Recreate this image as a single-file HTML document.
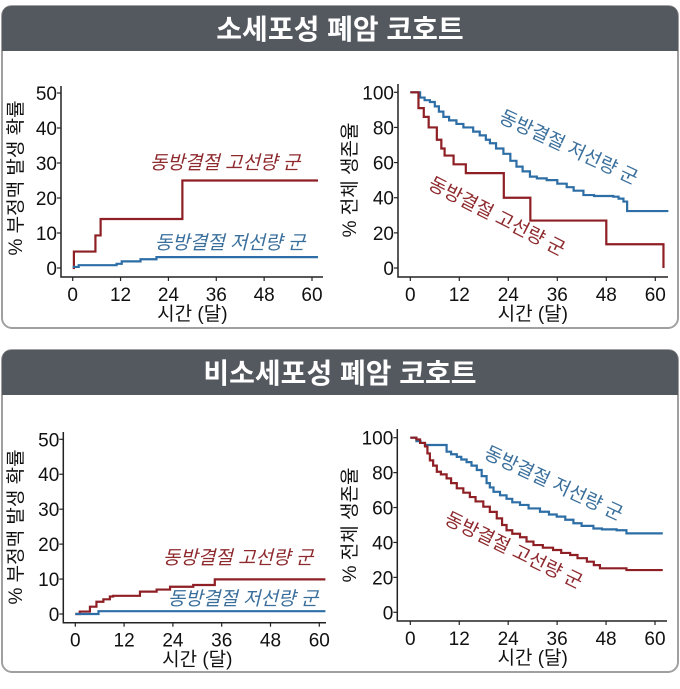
<!DOCTYPE html>
<html><head><meta charset="utf-8">
<style>
html,body{margin:0;padding:0;background:#fff;}
body{width:680px;height:684px;overflow:hidden;font-family:"Liberation Sans","Noto Sans CJK KR",sans-serif;}
svg text{font-family:"Liberation Sans","Noto Sans CJK KR",sans-serif;}
</style></head>
<body>
<svg id="root" width="680" height="684" viewBox="0 0 680 684" xmlns="http://www.w3.org/2000/svg">
  <g>
    <rect x="2" y="6" width="676" height="322" rx="10" fill="#fff" stroke="#a0a0a0" stroke-width="2"/>
    <path d="M2,51 V16 Q2,6 12,6 H668 Q678,6 678,16 V51 Z" fill="#54585f"/>
    <text x="340" y="39" text-anchor="middle" font-size="28" font-weight="bold" fill="#fff">소세포성 폐암 코호트</text>
  </g>
  <g>
    <rect x="2" y="350" width="676" height="322" rx="10" fill="#fff" stroke="#a0a0a0" stroke-width="2"/>
    <path d="M2,395 V360 Q2,350 12,350 H668 Q678,350 678,360 V395 Z" fill="#54585f"/>
    <text x="340" y="383" text-anchor="middle" font-size="28" font-weight="bold" fill="#fff">비소세포성 폐암 코호트</text>
  </g>
  <g id="charts"></g>
</svg>
<script>
// ---- data: chart A (small cell, incidence) ----
const xTicks = [0, 12, 24, 36, 48, 60];
const yTicksA = [0, 10, 20, 30, 40, 50];
const yTicksS = [0, 20, 40, 60, 80, 100];
const aHighT = [0, 0.3, 5.7, 7, 27.5];
const aHighV = [0, 4.7, 9.3, 14, 25];
const aLowT = [0, 1.5, 11, 12.3, 17, 21];
const aLowV = [0.3, 0.8, 1.2, 1.9, 2.5, 3.1];
// ---- chart B (small cell, overall survival) ----
const bLowT = [0, 2.4, 3.5, 4.8, 6, 7, 8.1, 9.5, 11.3, 13, 15.4, 17, 18.5, 19.5, 21, 22.8, 24.5, 26, 27.5, 29.3, 31, 33.4, 36, 38.3, 40, 42.4, 45, 49.7, 51, 52.2, 53.1];
const bLowV = [100, 97, 95.5, 94.5, 92, 89, 86, 84, 82, 80, 77.6, 75.5, 73, 71, 68, 65, 61, 57.7, 55, 52, 51, 50, 48, 46, 44, 41.5, 41, 40.6, 39.5, 37.8, 32.4];
const bHighT = [0, 2, 3.3, 4.5, 6.5, 7.6, 8.4, 10.6, 13.6, 22.9, 29.4, 48, 62];
const bHighV = [100, 91, 86, 80, 73, 68, 64, 59, 54, 40, 27, 13.5, 0];
// ---- chart C (non-small cell, incidence) ----
const cHighT = [0, 1.1, 3.6, 5.2, 6.9, 8.5, 9.3, 15.9, 20, 23.3, 29, 34.3];
const cHighV = [0, 0.7, 2.1, 3.5, 4.2, 5, 5.2, 6.4, 7, 7.8, 8.3, 9.9];
const cLowT = [0, 5.7];
const cLowV = [0, 0.8];
// ---- chart D (non-small cell, survival) ----
const dLowT = [0, 1.5, 2.5, 3.6, 6.9, 8.9, 10, 11.4, 12.5, 13.8, 15, 16.3, 17.5, 18.7, 19.5, 20.4, 22, 23.6, 25, 26.9, 29, 31.8, 34, 35.9, 38, 40, 42, 44.9, 47, 50.6, 53];
const dLowV = [100, 98, 97, 95.8, 95.8, 92, 90.5, 89, 87.5, 86, 84, 81.5, 78, 74, 71.5, 69, 67, 65, 63, 61.5, 59.5, 57.6, 56, 54.8, 53, 51, 49.5, 48, 47.5, 47, 45.2];
const dHighT = [0, 1.5, 2.4, 3.6, 4.2, 4.8, 5.6, 6.5, 7.5, 8.9, 10, 11.4, 13, 14.6, 16, 17.9, 19.5, 21.2, 22.5, 23.6, 25, 26.9, 28.5, 30.2, 32.5, 35, 37, 39.2, 41, 43.3, 45, 46.5, 53];
const dHighV = [100, 99, 97, 95, 91, 87, 84, 80.5, 79, 76.7, 74, 71, 68.5, 66, 63.5, 60.5, 57.5, 53.8, 50, 47, 45, 43, 40.5, 38.5, 37, 35.7, 34, 32.8, 31, 29, 27, 25.2, 24.2];

const NS = "http://www.w3.org/2000/svg";
const RED = "#8e1f24", BLUE = "#2c6ea5";
const host = document.getElementById("charts");
function mk(tag, attrs, parent) {
  const e = document.createElementNS(NS, tag);
  for (const k in attrs) e.setAttribute(k, attrs[k]);
  parent.appendChild(e);
  return e;
}
function stepPath(ts, vs, end, sx, sy) {
  let d = "M" + sx(ts[0]) + "," + sy(vs[0]);
  for (let i = 1; i < ts.length; i++) {
    d += " H" + sx(ts[i]) + " V" + sy(vs[i]);
  }
  d += " H" + sx(end);
  return d;
}
function chart(cfg) {
  const g = mk("g", {}, host);
  
  
  const sx = t => cfg.x0 + (t / 60) * (cfg.x60 - cfg.x0);
  const sy = v => cfg.yb - (v / cfg.ymax) * (cfg.yb - cfg.yt);
  const ax = mk("path", {d: "M" + cfg.axL + "," + cfg.axT + " V" + cfg.axB + " H" + cfg.axR, fill: "none", stroke: "#222", "stroke-width": 1.5}, g);
  
  
  cfg.yt_.forEach(v => {
    const tk = mk("line", {x1: cfg.axL - 4, x2: cfg.axL, y1: sy(v), y2: sy(v), stroke: "#222", "stroke-width": 1.2}, g);
    
    
    const tl = mk("text", {x: cfg.axL - 4, y: sy(v) + 7, "text-anchor": "end", "font-size": 19, fill: "#111"}, g);
    
    
    tl.textContent = v;
  });
  xTicks.forEach(t => {
    const tk = mk("line", {x1: sx(t), x2: sx(t), y1: cfg.axB, y2: cfg.axB + 4, stroke: "#222", "stroke-width": 1.2}, g);
    
    
    const tl = mk("text", {x: sx(t), y: cfg.axB + 24, "text-anchor": "middle", "font-size": 19, fill: "#111"}, g);
    
    
    tl.textContent = t;
  });
  const xt = mk("text", {x: (cfg.x0 + cfg.x60) / 2, y: cfg.axB + 43, "text-anchor": "middle", "font-size": 19, fill: "#111"}, g);
  
  
  xt.textContent = "시간 (달)";
  const yt = mk("text", {x: 0, y: 0, "text-anchor": "middle", "font-size": 19, fill: "#111", transform: "translate(" + cfg.ytx + "," + cfg.yty + ") rotate(-90)"}, g);
  
  
  yt.textContent = cfg.ytitle;
  cfg.series.forEach(s => {
    const p = mk("path", {d: stepPath(s.t, s.v, s.end, sx, sy), fill: "none", stroke: s.color, "stroke-width": 2.2}, g);
    
    
  });
  cfg.labels.forEach(l => {
    const t = mk("text", {x: 0, y: 0, "text-anchor": "middle", "font-size": 19, fill: l.color, "font-style": l.italic ? "italic" : "normal", transform: "translate(" + l.x + "," + l.y + ") rotate(" + l.rot + ")"}, g);
    
    
    t.textContent = l.text;
  });
}
const HIGH = "동방결절 고선량 군", LOW = "동방결절 저선량 군";
chart({name: "chart-small-cell-thrombosis", x0: 72.7, x60: 312, yb: 268, yt: 93, ymax: 50,
  axL: 61, axT: 86, axB: 277, axR: 323, yt_: yTicksA, ytx: 22, yty: 178, ytitle: "% 부정맥 발생 확률",
  series: [{name: "line-high-dose", t: aHighT, v: aHighV, end: 61.5, color: RED},
           {name: "line-low-dose", t: aLowT, v: aLowV, end: 61.5, color: BLUE}],
  labels: [{name: "legend-high-dose", text: HIGH, color: "#8e2a2e", x: 225, y: 169, rot: 0, italic: true},
           {name: "legend-low-dose", text: LOW, color: "#3a6f9c", x: 230, y: 249, rot: 0, italic: true}]});
chart({name: "chart-small-cell-survival", x0: 410.3, x60: 655.3, yb: 268, yt: 92.3, ymax: 100,
  axL: 398, axT: 84, axB: 277, axR: 668, yt_: yTicksS, ytx: 356, yty: 180, ytitle: "% 전체 생존율",
  series: [{name: "line-low-dose", t: bLowT, v: bLowV, end: 63.2, color: BLUE},
           {name: "line-high-dose", t: bHighT, v: bHighV, end: 62, color: RED}],
  labels: [{name: "legend-low-dose", text: LOW, color: "#3a6f9c", x: 566, y: 153, rot: 25, italic: false},
           {name: "legend-high-dose", text: HIGH, color: "#8e2a2e", x: 494, y: 222, rot: 27, italic: false}]});
chart({name: "chart-non-small-cell-thrombosis", x0: 75.3, x60: 319.3, yb: 614, yt: 439.3, ymax: 50,
  axL: 63.3, axT: 432, axB: 622.7, axR: 326, yt_: yTicksA, ytx: 22, yty: 527, ytitle: "% 부정맥 발생 확률",
  series: [{name: "line-high-dose", t: cHighT, v: cHighV, end: 61.5, color: RED},
           {name: "line-low-dose", t: cLowT, v: cLowV, end: 61.5, color: BLUE}],
  labels: [{name: "legend-high-dose", text: HIGH, color: "#8e2a2e", x: 238, y: 564, rot: 0, italic: true},
           {name: "legend-low-dose", text: LOW, color: "#3a6f9c", x: 243, y: 605, rot: 0, italic: true}]});
chart({name: "chart-non-small-cell-survival", x0: 410.3, x60: 655, yb: 612.3, yt: 437.7, ymax: 100,
  axL: 397.3, axT: 429, axB: 621, axR: 667, yt_: yTicksS, ytx: 356, yty: 525, ytitle: "% 전체 생존율",
  series: [{name: "line-low-dose", t: dLowT, v: dLowV, end: 61.9, color: BLUE},
           {name: "line-high-dose", t: dHighT, v: dHighV, end: 61.9, color: RED}],
  labels: [{name: "legend-low-dose", text: LOW, color: "#3a6f9c", x: 551, y: 489, rot: 25, italic: false},
           {name: "legend-high-dose", text: HIGH, color: "#8e2a2e", x: 511, y: 556, rot: 26, italic: false}]});
</script>
</body></html>
